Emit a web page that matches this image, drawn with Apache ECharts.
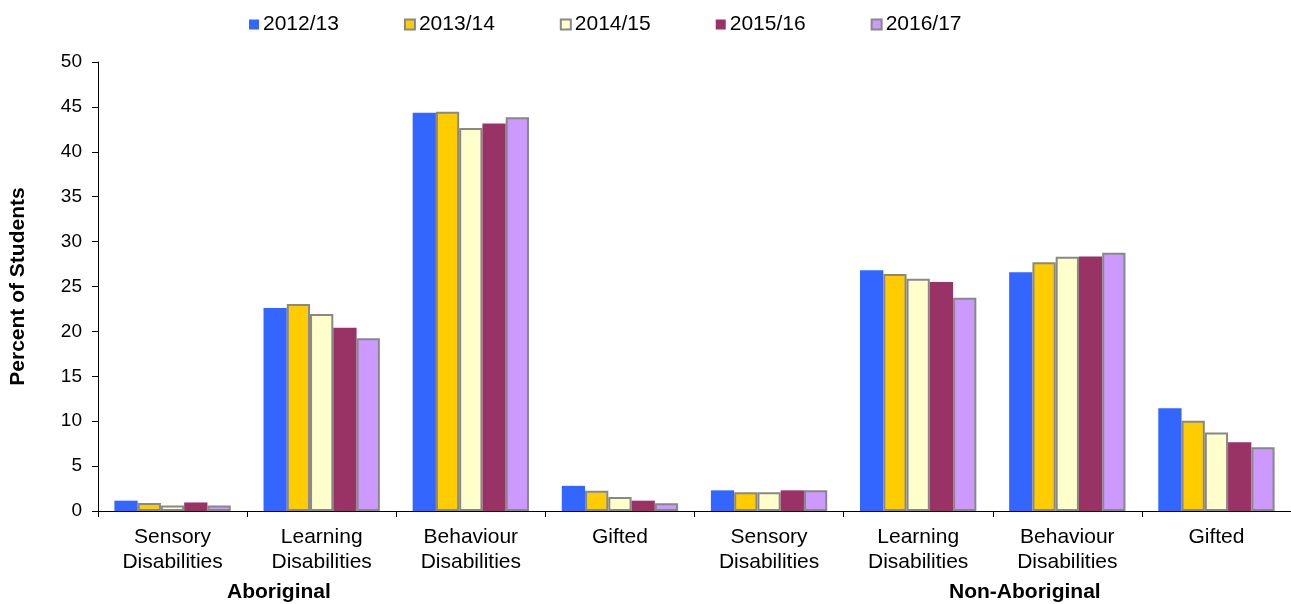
<!DOCTYPE html>
<html>
<head>
<meta charset="utf-8">
<script src="https://cdn.jsdelivr.net/npm/echarts@6/dist/echarts.min.js"></script>
<style>
html,body{margin:0;padding:0;background:#fff;}
#chart{width:1291px;height:604px;}
</style>
</head>
<body>
<div id="chart"></div>
<script>
const categories = ['Sensory\nDisabilities','Learning\nDisabilities','Behaviour\nDisabilities','Gifted',
                    'Sensory\nDisabilities','Learning\nDisabilities','Behaviour\nDisabilities','Gifted'];
const groupLabels = ['Aboriginal','Non-Aboriginal'];
const seriesNames = ['2012/13','2013/14','2014/15','2015/16','2016/17'];
const v2012 = [1.15, 22.6, 44.35, 2.8, 2.3, 26.8, 26.6, 11.45];
const v2013 = [0.9, 23.05, 44.45, 2.25, 2.1, 26.4, 27.7, 10.05];
const v2014 = [0.6, 21.95, 42.65, 1.55, 2.1, 25.85, 28.3, 8.75];
const v2015 = [0.95, 20.4, 43.15, 1.15, 2.3, 25.5, 28.35, 7.65];
const v2016 = [0.6, 19.25, 43.85, 0.85, 2.3, 23.75, 28.75, 7.1];
const yTicks = {min: 0, max: 50, interval: 5};

const values = [v2012, v2013, v2014, v2015, v2016];
const fills = ['#3366FF','#FFCC00','#FFFFCC','#993366','#CC99FF'];
const borders = [null,'#888888','#888888',null,'#888888'];
const FONT = '"Liberation Sans", Arial, sans-serif';

const chart = echarts.init(document.getElementById('chart'));
chart.setOption({
  animation: false,
  backgroundColor: '#ffffff',
  textStyle: {fontFamily: FONT, color: '#000'},
  legend: {
    top: 9, left: 244,
    itemWidth: 10, itemHeight: 10, itemGap: 65,
    icon: 'rect',
    textStyle: {fontSize: 21, color: '#000', fontFamily: FONT, padding: [0,0,0,-1]},
    data: seriesNames
  },
  grid: {left: 97, top: 62, right: -6, bottom: 93, containLabel: false},
  xAxis: {
    type: 'category',
    data: categories,
    axisLine: {lineStyle: {color: '#000', width: 1}},
    axisTick: {show: true, length: 6, lineStyle: {color: '#000'}},
    axisLabel: {fontSize: 21, lineHeight: 25, color: '#000', margin: 14, interval: 0, fontFamily: FONT}
  },
  yAxis: {
    type: 'value',
    min: yTicks.min, max: yTicks.max, interval: yTicks.interval,
    name: 'Percent of Students',
    nameLocation: 'middle',
    nameGap: 69,
    nameRotate: 90,
    nameTextStyle: {fontSize: 21, fontWeight: 'bold', color: '#000', fontFamily: FONT},
    axisLine: {show: true, lineStyle: {color: '#000', width: 1}},
    axisTick: {show: true, length: 6, lineStyle: {color: '#000'}},
    splitLine: {show: false},
    axisLabel: {fontSize: 19, color: '#000', margin: 16, fontFamily: FONT}
  },
  series: seriesNames.map((n, i) => ({
    name: n,
    type: 'bar',
    data: values[i],
    barGap: '0%',
    barCategoryGap: '22%',
    itemStyle: {
      color: fills[i],
      borderColor: borders[i] || fills[i],
      borderWidth: borders[i] ? 2 : 0
    }
  })),
  graphic: [
    {type: 'text', left: 227, top: 582, style: {text: groupLabels[0], font: 'bold 21px ' + FONT, fill: '#000'}},
    {type: 'text', left: 949, top: 582, style: {text: groupLabels[1], font: 'bold 21px ' + FONT, fill: '#000'}}
  ]
});
</script>
</body>
</html>
